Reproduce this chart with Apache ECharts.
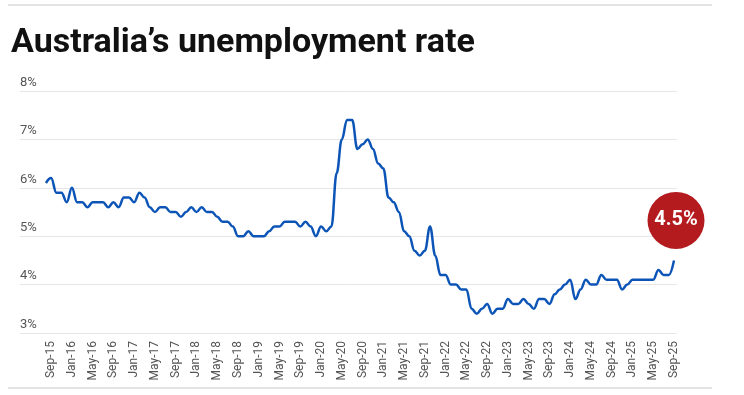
<!DOCTYPE html>
<html>
<head>
<meta charset="utf-8">
<script src="https://cdn.jsdelivr.net/npm/echarts@6/dist/echarts.min.js"></script>
<style>
  html, body { margin: 0; padding: 0; background: #fff; }
  #chart { width: 744px; height: 395px; }
</style>
</head>
<body>
<div id="chart"></div>
<script>
// Monthly unemployment rate (%), Aug-15 .. Sep-25 (index 0 = Aug-15)
const values = [
  6.1, 6.2, 5.9, 5.9, 5.7,            // Aug-15 .. Dec-15
  6.0, 5.7, 5.7, 5.6, 5.7, 5.7, 5.7, 5.6, 5.7, 5.6, 5.8, 5.8,   // 2016
  5.7, 5.9, 5.8, 5.6, 5.5, 5.6, 5.6, 5.5, 5.5, 5.4, 5.5, 5.6,   // 2017
  5.5, 5.6, 5.5, 5.5, 5.4, 5.3, 5.3, 5.2, 5.0, 5.0, 5.1, 5.0,   // 2018
  5.0, 5.0, 5.1, 5.2, 5.2, 5.3, 5.3, 5.3, 5.2, 5.3, 5.2, 5.0,   // 2019
  5.2, 5.1, 5.2, 6.3, 7.0, 7.4, 7.4, 6.8, 6.9, 7.0, 6.8, 6.5,   // 2020
  6.4, 5.8, 5.7, 5.5, 5.1, 5.0, 4.7, 4.6, 4.7, 5.2, 4.6, 4.2,   // 2021
  4.2, 4.0, 4.0, 3.9, 3.9, 3.5, 3.4, 3.5, 3.6, 3.4, 3.5, 3.5,   // 2022
  3.7, 3.6, 3.6, 3.7, 3.6, 3.5, 3.7, 3.7, 3.6, 3.8, 3.9, 4.0,   // 2023
  4.1, 3.7, 3.9, 4.1, 4.0, 4.0, 4.2, 4.1, 4.1, 4.1, 3.9, 4.0,   // 2024
  4.1, 4.1, 4.1, 4.1, 4.1, 4.3, 4.2, 4.2, 4.5                   // 2025 (to Sep)
];
// Tick labels, every fourth month starting at Sep-15 (index 1)
const tickLabels = [
  'Sep-15','Jan-16','May-16','Sep-16','Jan-17','May-17','Sep-17','Jan-18',
  'May-18','Sep-18','Jan-19','May-19','Sep-19','Jan-20','May-20','Sep-20',
  'Jan-21','May-21','Sep-21','Jan-22','May-22','Sep-22','Jan-23','May-23',
  'Sep-23','Jan-24','May-24','Sep-24','Jan-25','May-25','Sep-25'
];
const yTicks = [3, 4, 5, 6, 7, 8];
const titleText = 'Australia\u2019s unemployment rate';

const seriesData = values.map((v, i) => [i, v]);
const lastIdx = values.length - 1;

const chart = echarts.init(document.getElementById('chart'), null, { renderer: 'canvas' });
chart.setOption({
  animation: false,
  backgroundColor: '#ffffff',
  title: {
    text: titleText,
    left: 6,
    top: 21,
    textStyle: { fontFamily: 'Roboto', fontWeight: 'bold', fontSize: 34, color: '#111111' }
  },
  graphic: [
    { type: 'line', shape: { x1: 8, y1: 5, x2: 712, y2: 5 }, style: { stroke: '#e3e3e3', lineWidth: 2 } },
    { type: 'line', shape: { x1: 8, y1: 388, x2: 712, y2: 388 }, style: { stroke: '#e3e3e3', lineWidth: 2 } }
  ],
  grid: { left: 20, right: 67.4, top: 91, bottom: 62, containLabel: false },
  xAxis: {
    type: 'value',
    min: -5,
    max: 121.5,
    interval: 1,
    splitLine: { show: false },
    axisTick: { show: false },
    axisLine: { show: false },
    axisLabel: {
      rotate: 90,
      margin: 8,
      fontFamily: 'Roboto',
      fontSize: 12,
      color: '#555555',
      showMinLabel: false,
      showMaxLabel: false,
      formatter: function (v) {
        if (v >= 1 && (v - 1) % 4 === 0) {
          const k = (v - 1) / 4;
          return tickLabels[k] || '';
        }
        return '';
      }
    }
  },
  yAxis: {
    type: 'value',
    min: yTicks[0],
    max: yTicks[yTicks.length - 1],
    interval: 1,
    axisLine: { show: false },
    axisTick: { show: false },
    splitLine: { lineStyle: { color: '#e6e6e6', width: 1 } },
    axisLabel: {
      inside: true,
      margin: 0,
      align: 'left',
      verticalAlign: 'bottom',
      padding: [0, 0, 2, 0],
      fontFamily: 'Roboto',
      fontSize: 13,
      color: '#555555',
      formatter: '{value}%'
    }
  },
  series: [{
    type: 'line',
    data: seriesData,
    showSymbol: false,
    smooth: 0.4,
    smoothMonotone: 'x',
    lineStyle: { color: '#0c55b7', width: 2.5 },
    itemStyle: { color: '#0c55b7' },
    markPoint: {
      silent: true,
      symbol: 'circle',
      symbolSize: 57,
      symbolOffset: [2, -40],
      itemStyle: { color: '#b31b1f' },
      label: {
        show: true,
        color: '#ffffff',
        fontFamily: 'Roboto',
        fontWeight: 'bold',
        fontSize: 20,
        formatter: function (p) { return p.value + '%'; }
      },
      data: [{ coord: [lastIdx, values[lastIdx]], value: values[lastIdx] }]
    }
  }]
});
</script>
</body>
</html>
